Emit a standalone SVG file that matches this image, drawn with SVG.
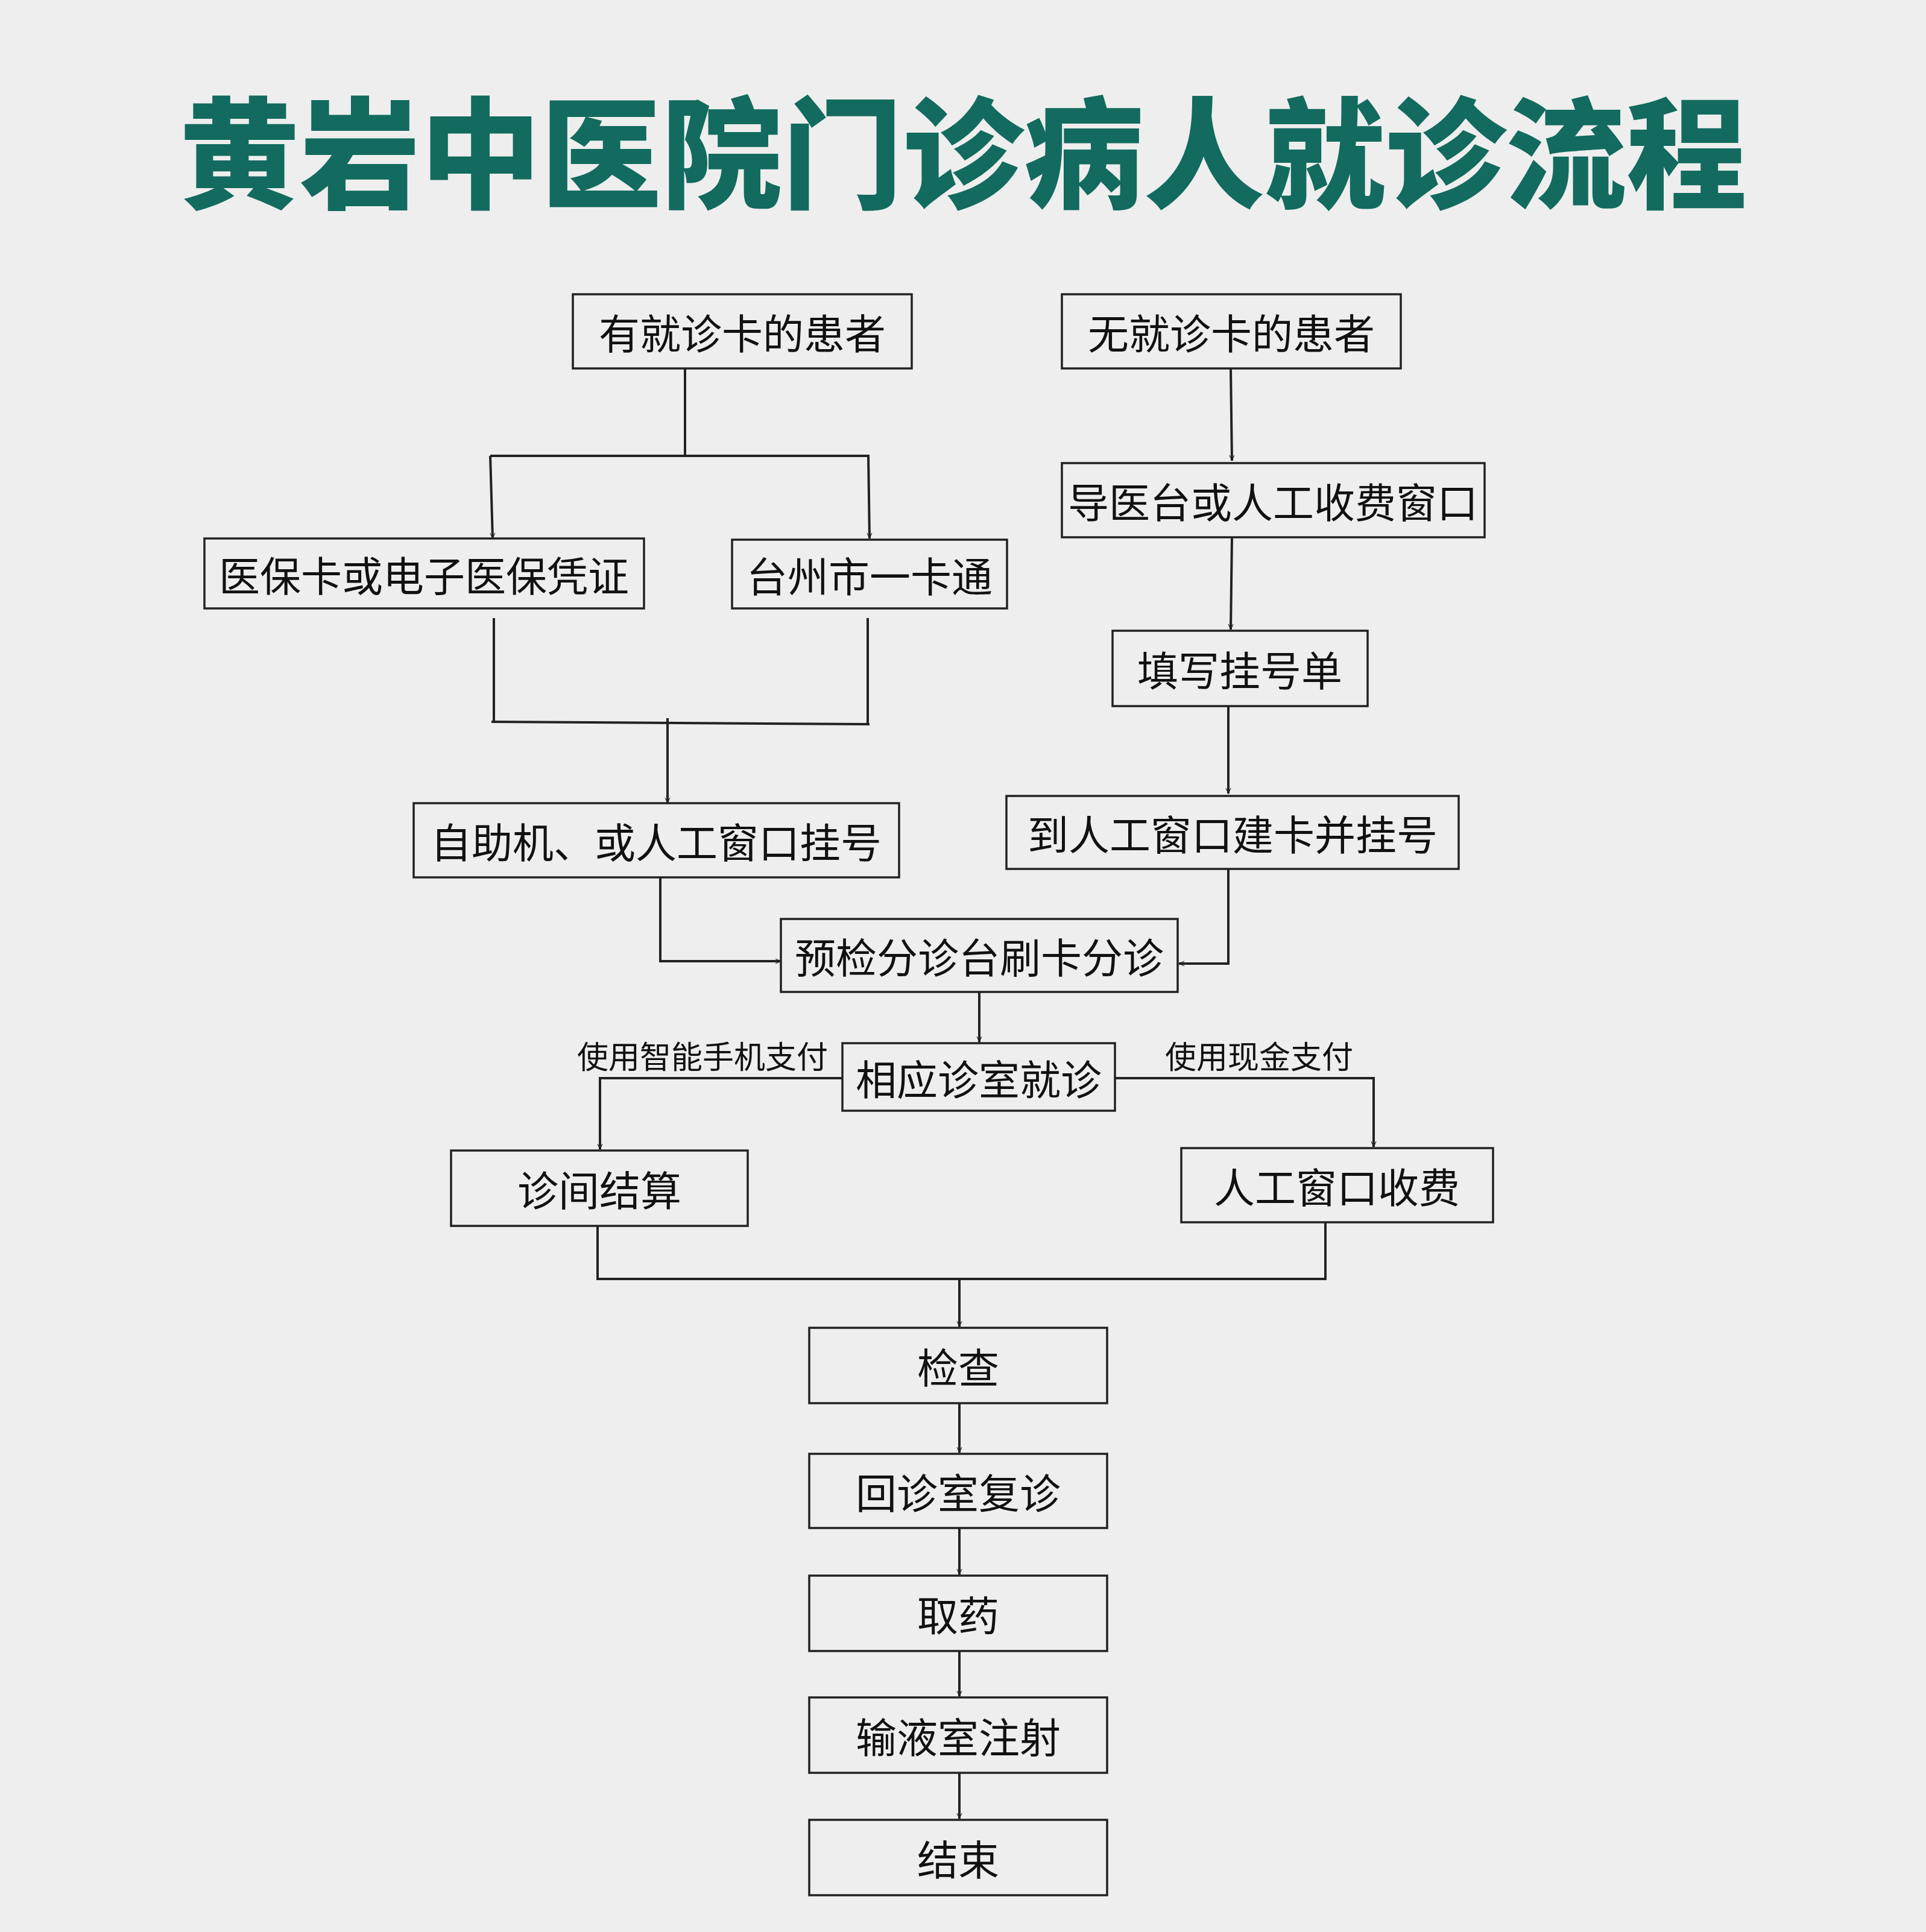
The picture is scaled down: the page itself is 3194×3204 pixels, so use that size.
<svg xmlns="http://www.w3.org/2000/svg" width="3194" height="3204" viewBox="0 0 3194 3204">
<style>
.b{fill:none;stroke:#222;stroke-width:3.5}
.t{font-family:"Noto Sans CJK SC","Noto Sans",sans-serif;font-size:68px;fill:#111;text-anchor:middle;dominant-baseline:central}
.s{font-family:"Noto Sans CJK SC","Noto Sans",sans-serif;font-size:52px;fill:#111;text-anchor:middle}
.c{fill:none;stroke:#222;stroke-width:4}
</style>
<defs><marker id="a" viewBox="0 0 20 20" refX="19" refY="10" markerWidth="10" markerHeight="10" markerUnits="userSpaceOnUse" orient="auto"><path d="M1,2 L19,10 L1,18" fill="none" stroke="#222" stroke-width="2.2"/></marker></defs>
<rect width="3194" height="3204" fill="#eeeeee"/>
<text x="1597" y="330" font-family="Noto Sans CJK SC,sans-serif" font-size="200" font-weight="900" fill="#126b5e" text-anchor="middle">黄岩中医院门诊病人就诊流程</text>
<g id="n1"><rect class="b" x="950" y="488" width="562" height="123"/><text class="t" x="1231" y="549">有就诊卡的患者</text></g>
<g id="n2"><rect class="b" x="1761" y="488" width="562" height="123"/><text class="t" x="2042" y="549">无就诊卡的患者</text></g>
<g id="n3"><rect class="b" x="1761" y="768" width="701" height="123"/><text class="t" x="2111" y="829">导医台或人工收费窗口</text></g>
<g id="n4"><rect class="b" x="339" y="893" width="729" height="116"/><text class="t" x="703" y="951">医保卡或电子医保凭证</text></g>
<g id="n5"><rect class="b" x="1214" y="895" width="456" height="114"/><text class="t" x="1442" y="952">台州市一卡通</text></g>
<g id="n6"><rect class="b" x="1845" y="1046" width="423" height="125"/><text class="t" x="2056" y="1108">填写挂号单</text></g>
<g id="n7"><rect class="b" x="686" y="1332" width="805" height="123"/><text class="t" x="1088" y="1393">自助机、或人工窗口挂号</text></g>
<g id="n8"><rect class="b" x="1669" y="1320" width="750" height="121"/><text class="t" x="2044" y="1380">到人工窗口建卡并挂号</text></g>
<g id="n9"><rect class="b" x="1295" y="1524" width="658" height="121"/><text class="t" x="1624" y="1584">预检分诊台刷卡分诊</text></g>
<g id="n10"><rect class="b" x="1397" y="1730" width="452" height="112"/><text class="t" x="1623" y="1786">相应诊室就诊</text></g>
<g id="n11"><rect class="b" x="748" y="1908" width="492" height="125"/><text class="t" x="994" y="1970">诊间结算</text></g>
<g id="n12"><rect class="b" x="1959" y="1904" width="517" height="123"/><text class="t" x="2217" y="1965">人工窗口收费</text></g>
<g id="n13"><rect class="b" x="1342" y="2202" width="494" height="125"/><text class="t" x="1589" y="2264">检查</text></g>
<g id="n14"><rect class="b" x="1342" y="2411" width="494" height="123"/><text class="t" x="1589" y="2472">回诊室复诊</text></g>
<g id="n15"><rect class="b" x="1342" y="2613" width="494" height="125"/><text class="t" x="1589" y="2675">取药</text></g>
<g id="n16"><rect class="b" x="1342" y="2815" width="494" height="125"/><text class="t" x="1589" y="2877">输液室注射</text></g>
<g id="n17"><rect class="b" x="1342" y="3018" width="494" height="125"/><text class="t" x="1589" y="3080">结束</text></g>
<g id="edges">
<path class="c" d="M1136,611 V756 M813,756 H1442"/>
<path class="c" d="M813,756 L817,893" marker-end="url(#a)"/>
<path class="c" d="M1440,756 L1442,893" marker-end="url(#a)"/>
<path class="c" d="M2041,611 L2043,764" marker-end="url(#a)"/>
<path class="c" d="M2043,891 L2041,1044" marker-end="url(#a)"/>
<path class="c" d="M2037,1171 V1316" marker-end="url(#a)"/>
<path class="c" d="M819,1025 V1197 M1439,1025 V1201 M815,1197 L1442,1201"/>
<path class="c" d="M1107,1191 V1332" marker-end="url(#a)"/>
<path class="c" d="M1095,1455 V1594 H1295" marker-end="url(#a)"/>
<path class="c" d="M2037,1441 V1598 H1955" marker-end="url(#a)"/>
<path class="c" d="M1624,1645 V1728" marker-end="url(#a)"/>
<path class="c" d="M1397,1788 H995 V1906" marker-end="url(#a)"/>
<path class="c" d="M1849,1788 H2278 V1902" marker-end="url(#a)"/>
<path class="c" d="M991,2033 V2121 H2198 V2027"/>
<path class="c" d="M1591,2121 V2200" marker-end="url(#a)"/>
<path class="c" d="M1591,2327 V2409" marker-end="url(#a)"/>
<path class="c" d="M1591,2534 V2611" marker-end="url(#a)"/>
<path class="c" d="M1591,2738 V2813" marker-end="url(#a)"/>
<path class="c" d="M1591,2940 V3016" marker-end="url(#a)"/>
<text class="s" x="1165" y="1772">使用智能手机支付</text>
<text class="s" x="2088" y="1772">使用现金支付</text>
</g>
</svg>
